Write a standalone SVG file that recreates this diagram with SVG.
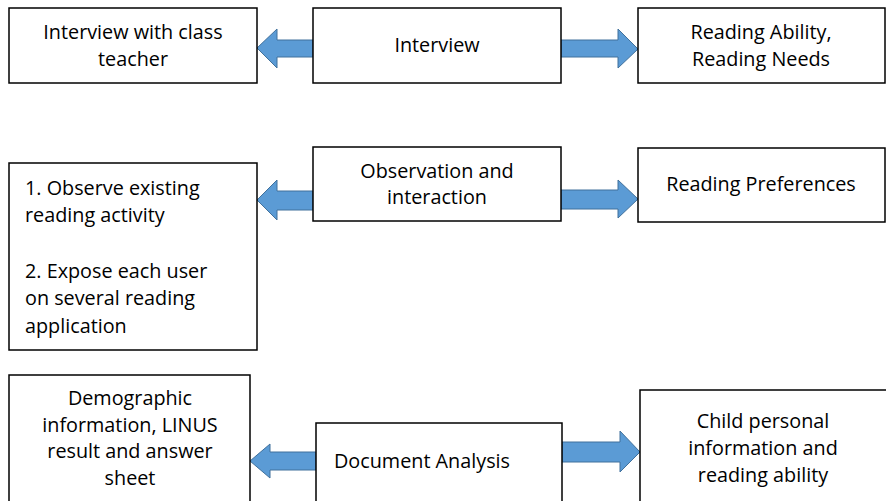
<svg xmlns="http://www.w3.org/2000/svg" width="886" height="501" viewBox="0 0 886 501">
<style>
.box{fill:#fff;stroke:#000;stroke-width:1.5}
.t{font-family:"Open Sans","Liberation Sans",Arial,sans-serif;font-size:19.8px;fill:#000}
.c{text-anchor:middle}
.arr{fill:#5B9BD5;stroke:#41719C;stroke-width:1}
</style>
<rect width="886" height="501" fill="#fff"/>
<g id="connectors">
<polygon class="arr" points="257,48 277,29 277,40 313,40 313,57 277,57 277,68"/>
<polygon class="arr" points="561,40 618,40 618,29 638,49 618,68 618,57 561,57"/>
<polygon class="arr" points="257,200 277,180 277,191 313,191 313,210 277,210 277,220"/>
<polygon class="arr" points="561,190 618,190 618,180 638,199 618,218 618,209 561,209"/>
<polygon class="arr" points="250,461 270,444 270,452 316,452 316,470 270,470 270,478"/>
<polygon class="arr" points="562,442 620,442 620,431 640,452 620,472 620,462 562,462"/>
</g>
<g id="teacher">
<rect class="box" x="9" y="8" width="248" height="75"/>
<text class="t c" x="133" y="39">Interview with class</text>
<text class="t c" x="133" y="66">teacher</text>
</g>
<g id="interview">
<rect class="box" x="313" y="8" width="248" height="75"/>
<text class="t c" x="437" y="52">Interview</text>
</g>
<g id="ability">
<rect class="box" x="638" y="8" width="247" height="75"/>
<text class="t c" x="761" y="39">Reading Ability,</text>
<text class="t c" x="761" y="66">Reading Needs</text>
</g>
<g id="observe">
<rect class="box" x="9" y="163" width="248" height="187"/>
<text class="t" x="25" y="195">1. Observe existing</text>
<text class="t" x="25" y="222">reading activity</text>
<text class="t" x="25" y="278">2. Expose each user</text>
<text class="t" x="25" y="305">on several reading</text>
<text class="t" x="25" y="333">application</text>
</g>
<g id="observation">
<rect class="box" x="313" y="147" width="248" height="74"/>
<text class="t c" x="437" y="178">Observation and</text>
<text class="t c" x="437" y="204">interaction</text>
</g>
<g id="preferences">
<rect class="box" x="638" y="148" width="247" height="74"/>
<text class="t c" x="761" y="191">Reading Preferences</text>
</g>
<g id="demographic">
<rect class="box" x="9" y="375" width="241" height="140"/>
<text class="t c" x="130" y="405">Demographic</text>
<text class="t c" x="130" y="432">information, LINUS</text>
<text class="t c" x="130" y="458">result and answer</text>
<text class="t c" x="130" y="485">sheet</text>
</g>
<g id="document">
<rect class="box" x="316" y="423" width="246" height="90"/>
<text class="t" x="334" y="468">Document Analysis</text>
</g>
<g id="child">
<rect class="box" x="640" y="390" width="260" height="130"/>
<text class="t c" x="763" y="428">Child personal</text>
<text class="t c" x="763" y="455">information and</text>
<text class="t c" x="763" y="482">reading ability</text>
</g>
</svg>
